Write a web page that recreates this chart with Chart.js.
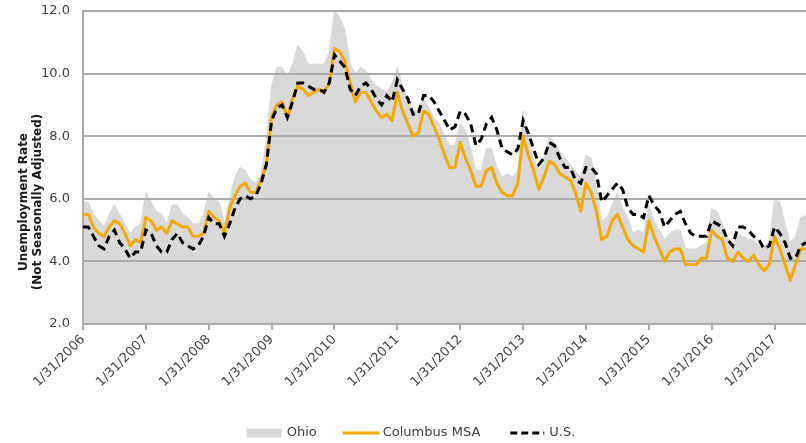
<!DOCTYPE html>
<html>
<head>
<meta charset="utf-8">
<title>Unemployment Rate (Not Seasonally Adjusted)</title>
<script src="https://cdn.jsdelivr.net/npm/chart.js@4.4.1/dist/chart.umd.min.js"></script>
<style>
  html, body { margin: 0; padding: 0; background: #ffffff; }
  canvas { display: block; }
</style>
</head>
<body>
<canvas id="chart" width="806" height="443"></canvas>
<script>
// Month-end dates, January 2006 through July 2017
const months = [];
for (let yr = 2006; yr <= 2017; yr++) {
  for (let m = 1; m <= 12; m++) {
    if (yr === 2017 && m > 7) break;
    const lastDay = new Date(yr, m, 0).getDate();
    months.push(m + '/' + lastDay + '/' + yr);
  }
}

// Unemployment rate, %, not seasonally adjusted
const ohio = [
  5.9, 5.9, 5.5, 5.3, 5.1, 5.5, 5.8, 5.5, 5.2, 4.9, 5.1, 5.2,      // 2006
  6.2, 5.9, 5.6, 5.5, 5.2, 5.8, 5.8, 5.5, 5.4, 5.2, 5.2, 5.5,      // 2007
  6.2, 6.0, 5.9, 5.2, 6.0, 6.7, 7.0, 6.9, 6.6, 6.5, 6.8, 7.9,      // 2008
  9.6, 10.2, 10.2, 9.9, 10.3, 10.9, 10.7, 10.3, 10.3, 10.3, 10.3, 10.7, // 2009
  12.0, 11.8, 11.4, 10.3, 10.0, 10.2, 10.1, 9.8, 9.6, 9.5, 9.4, 9.7,   // 2010
  10.2, 9.6, 9.2, 8.8, 8.9, 9.2, 8.9, 8.6, 8.4, 8.0, 7.7, 7.7,     // 2011
  8.4, 8.2, 7.6, 6.9, 6.9, 7.6, 7.6, 7.0, 6.7, 6.8, 6.7, 6.9,      // 2012
  8.8, 7.9, 7.3, 6.9, 7.3, 8.0, 7.8, 7.5, 7.3, 7.1, 6.9, 6.7,      // 2013
  7.4, 7.3, 6.4, 5.3, 5.4, 5.8, 6.2, 5.7, 5.4, 4.9, 5.0, 4.9,      // 2014
  5.8, 5.3, 5.0, 4.7, 4.9, 5.0, 5.0, 4.4, 4.4, 4.4, 4.5, 4.6,      // 2015
  5.7, 5.6, 5.2, 4.8, 4.5, 4.9, 4.8, 4.7, 4.7, 4.5, 4.5, 4.6,      // 2016
  6.0, 5.9, 5.2, 4.6, 4.8, 5.4, 5.5                                // 2017
];

const columbus = [
  5.5, 5.5, 5.1, 4.9, 4.8, 5.1, 5.3, 5.2, 4.9, 4.5, 4.7, 4.6,      // 2006
  5.4, 5.3, 5.0, 5.1, 4.9, 5.3, 5.2, 5.1, 5.1, 4.8, 4.8, 4.9,      // 2007
  5.6, 5.4, 5.3, 4.9, 5.7, 6.1, 6.4, 6.5, 6.2, 6.2, 6.6, 7.1,      // 2008
  8.6, 9.0, 9.1, 8.6, 9.2, 9.6, 9.5, 9.3, 9.4, 9.5, 9.4, 9.7,      // 2009
  10.8, 10.7, 10.4, 9.7, 9.1, 9.4, 9.4, 9.1, 8.8, 8.6, 8.7, 8.5,   // 2010
  9.4, 8.8, 8.4, 8.0, 8.1, 8.8, 8.7, 8.3, 7.9, 7.4, 7.0, 7.0,      // 2011
  7.8, 7.3, 6.9, 6.4, 6.4, 6.9, 7.0, 6.5, 6.2, 6.1, 6.1, 6.5,      // 2012
  8.0, 7.4, 6.9, 6.3, 6.7, 7.2, 7.1, 6.8, 6.7, 6.6, 6.2, 5.6,      // 2013
  6.5, 6.2, 5.6, 4.7, 4.8, 5.3, 5.5, 5.1, 4.7, 4.5, 4.4, 4.3,      // 2014
  5.3, 4.8, 4.4, 4.0, 4.3, 4.4, 4.4, 3.9, 3.9, 3.9, 4.1, 4.1,      // 2015
  5.0, 4.8, 4.7, 4.1, 4.0, 4.3, 4.1, 4.0, 4.2, 3.9, 3.7, 3.9,      // 2016
  4.8, 4.4, 3.9, 3.4, 3.9, 4.4, 4.4                                // 2017
];

const us = [
  5.1, 5.1, 4.8, 4.5, 4.4, 4.8, 5.0, 4.6, 4.4, 4.1, 4.3, 4.3,      // 2006
  5.0, 4.9, 4.5, 4.3, 4.3, 4.7, 4.9, 4.6, 4.5, 4.4, 4.5, 4.8,      // 2007
  5.4, 5.2, 5.2, 4.8, 5.2, 5.7, 6.0, 6.1, 6.0, 6.1, 6.5, 7.1,      // 2008
  8.5, 8.9, 9.0, 8.6, 9.1, 9.7, 9.7, 9.6, 9.5, 9.5, 9.4, 9.7,      // 2009
  10.6, 10.4, 10.2, 9.5, 9.3, 9.6, 9.7, 9.5, 9.2, 9.0, 9.3, 9.1,   // 2010
  9.8, 9.5, 9.2, 8.7, 8.7, 9.3, 9.3, 9.1, 8.8, 8.5, 8.2, 8.3,      // 2011
  8.8, 8.7, 8.4, 7.7, 7.9, 8.4, 8.6, 8.2, 7.6, 7.5, 7.4, 7.6,      // 2012
  8.5, 8.1, 7.6, 7.1, 7.3, 7.8, 7.7, 7.3, 7.0, 7.0, 6.6, 6.5,      // 2013
  7.0, 7.0, 6.8, 5.9, 6.1, 6.3, 6.5, 6.3, 5.7, 5.5, 5.5, 5.4,      // 2014
  6.1, 5.8, 5.6, 5.1, 5.3, 5.5, 5.6, 5.2, 4.9, 4.8, 4.8, 4.8,      // 2015
  5.3, 5.2, 5.1, 4.7, 4.5, 5.1, 5.1, 5.0, 4.8, 4.7, 4.4, 4.5,      // 2016
  5.1, 4.9, 4.6, 4.1, 4.1, 4.5, 4.6                                // 2017
];

const seriesNames = ['Ohio', 'Columbus MSA', 'U.S.'];
const axisTitleLines = ['Unemployment Rate', '(Not Seasonally Adjusted)'];

const FONT = '"DejaVu Sans", Verdana, sans-serif';
const GRID = '#ababab';

// Redraws the horizontal grid and the left axis line over the shaded Ohio area
const gridOverArea = {
  id: 'gridOverArea',
  afterDatasetDraw(chart, args) {
    if (args.index !== 0) return;
    const { ctx, chartArea, scales } = chart;
    const y = scales.y;
    ctx.save();
    ctx.strokeStyle = GRID;
    ctx.lineWidth = 2;
    ctx.beginPath();
    y.ticks.forEach(t => {
      const py = Math.round(y.getPixelForValue(t.value));
      ctx.moveTo(chartArea.left - 1, py);
      ctx.lineTo(chartArea.right, py);
    });
    ctx.moveTo(Math.round(chartArea.left), chartArea.top);
    ctx.lineTo(Math.round(chartArea.left), chartArea.bottom + 1);
    ctx.stroke();
    ctx.restore();
  }
};

// Two-line rotated title for the value axis
const axisTitle = {
  id: 'axisTitle',
  afterDraw(chart, args, opts) {
    const ctx = chart.ctx;
    ctx.save();
    ctx.translate(opts.x, opts.y);
    ctx.rotate(-Math.PI / 2);
    ctx.font = 'bold 12px ' + FONT;
    ctx.fillStyle = '#1a1a1a';
    ctx.textAlign = 'center';
    ctx.textBaseline = 'middle';
    opts.lines.forEach((line, i) => ctx.fillText(line, 0, i * opts.lineHeight));
    ctx.restore();
  }
};

// Series key under the chart: filled box for the area, stroked lines for the two line series
const seriesKey = {
  id: 'seriesKey',
  afterDraw(chart, args, opts) {
    const ctx = chart.ctx;
    ctx.save();
    ctx.font = '13px ' + FONT;
    ctx.textBaseline = 'middle';
    ctx.textAlign = 'left';
    const items = chart.data.datasets.map((ds, i) => ({ ds, spec: opts.items[i] }));
    let total = 0;
    items.forEach((it, i) => {
      it.textW = ctx.measureText(it.ds.label).width;
      total += it.spec.swatch + it.spec.gap + it.textW + (i < items.length - 1 ? it.spec.after : 0);
    });
    let x = opts.centerX - total / 2;
    const cy = opts.y;
    items.forEach(it => {
      const { ds, spec } = it;
      if (spec.kind === 'box') {
        ctx.fillStyle = ds.backgroundColor;
        ctx.fillRect(x, cy - 4.5, spec.swatch, 9);
      } else {
        ctx.beginPath();
        ctx.strokeStyle = ds.borderColor;
        ctx.lineWidth = ds.borderWidth;
        ctx.setLineDash(spec.dash || []);
        ctx.moveTo(x, cy);
        ctx.lineTo(x + spec.swatch, cy);
        ctx.stroke();
        ctx.setLineDash([]);
      }
      x += spec.swatch + spec.gap;
      ctx.fillStyle = '#404040';
      ctx.fillText(ds.label, x, cy);
      x += it.textW + spec.after;
    });
    ctx.restore();
  }
};

new Chart(document.getElementById('chart'), {
  type: 'line',
  data: {
    labels: months,
    datasets: [
      {
        label: seriesNames[0],
        data: ohio,
        order: 3,
        fill: 'start',
        backgroundColor: '#d9d9d9',
        borderColor: '#d9d9d9',
        borderWidth: 1,
        pointRadius: 0,
        tension: 0
      },
      {
        label: seriesNames[1],
        data: columbus,
        order: 2,
        fill: false,
        borderColor: '#f2a900',
        borderWidth: 3,
        borderJoinStyle: 'round',
        pointRadius: 0,
        tension: 0
      },
      {
        label: seriesNames[2],
        data: us,
        order: 1,
        fill: false,
        borderColor: '#000000',
        borderWidth: 3,
        borderDash: [8, 5],
        pointRadius: 0,
        tension: 0
      }
    ]
  },
  options: {
    responsive: false,
    animation: false,
    events: [],
    layout: { padding: { top: 11, right: 0, bottom: 0, left: 0 } },
    scales: {
      x: {
        type: 'category',
        offset: false,
        afterFit: s => { s.height = 119; s.paddingRight = 0; },
        grid: {
          drawOnChartArea: false,
          drawTicks: true,
          tickLength: 6,
          lineWidth: 2,
          color: c => (c.index % 12 === 0 ? GRID : 'rgba(0,0,0,0)')
        },
        border: { display: true, color: GRID, width: 2 },
        ticks: {
          autoSkip: false,
          maxRotation: 45,
          minRotation: 45,
          padding: 2,
          color: '#404040',
          font: { family: FONT, size: 13 },
          callback: (v, i) => (i % 12 === 0 ? months[i] : '')
        }
      },
      y: {
        min: 2,
        max: 12,
        afterFit: s => { s.width = 83; s.paddingTop = 0; s.paddingBottom = 0; },
        grid: { color: GRID, lineWidth: 2, drawTicks: false },
        border: { display: true, color: GRID, width: 2 },
        ticks: {
          stepSize: 2,
          padding: 13,
          color: '#404040',
          font: { family: FONT, size: 13 },
          callback: v => Number(v).toFixed(1)
        }
      }
    },
    plugins: {
      legend: { display: false },
      tooltip: { enabled: false },
      axisTitle: { x: 24, y: 202, lineHeight: 14, lines: axisTitleLines },
      seriesKey: {
        centerX: 411,
        y: 433,
        items: [
          { kind: 'box', swatch: 35, gap: 5, after: 26 },
          { kind: 'line', swatch: 37, gap: 3, after: 30 },
          { kind: 'line', swatch: 34, gap: 5, after: 0, dash: [7, 4] }
        ]
      }
    }
  },
  plugins: [gridOverArea, axisTitle, seriesKey]
});
</script>
</body>
</html>
